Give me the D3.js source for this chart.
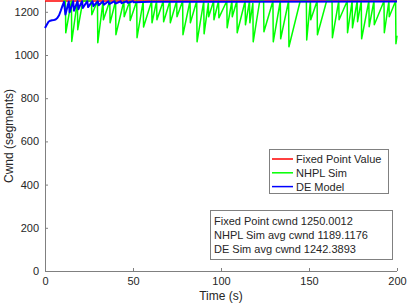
<!DOCTYPE html>
<html><head><meta charset="utf-8">
<script src="https://cdn.jsdelivr.net/npm/d3@7"></script>
<style>body{margin:0;background:#fff;} svg{display:block;} text{font-family:"Liberation Sans",Arial,sans-serif;fill:#262626;}</style>
</head><body><svg id="c" width="407" height="308"></svg>
<script>
const xTicks = [0, 50, 100, 150, 200];
const yTicks = [0, 200, 400, 600, 800, 1000, 1200];
const fixedPointTime = [0, 200];
const fixedPointCwnd = [1250.0012, 1250.0012];
const nhplTime = [10.5,11.6,11.8,15.0,15.2,18.4,18.6,21.5,26.4,26.6,29.8,30.0,33.0,33.2,36.8,37.0,40.1,40.3,44.8,45.0,48.2,48.4,52.1,52.3,55.8,56.0,60.6,60.8,63.4,63.6,67.2,67.4,71.0,71.2,74.8,75.0,78.2,78.4,82.4,82.6,86.2,86.4,90.2,90.4,92.8,93.0,95.8,96.0,98.6,98.8,103.3,103.5,106.2,106.4,109.0,109.2,113.7,113.9,116.2,116.4,118.1,118.3,122,124.2,124.4,129.5,129.7,133.7,133.9,138.4,138.6,145,148.5,148.7,150.8,151.0,154.6,154.8,160,163.1,163.3,166.9,167.1,171.7,171.9,174.5,174.7,177.4,177.6,179.7,179.9,184.0,184.2,186.9,187.1,192.6,192.8,195.4,195.6,199.2,199.4,200];
const nhplCwnd = [1250,1250,1103,1250,1063,1250,1117,1250,1250,1186,1250,1057,1250,1163,1250,1149,1250,1094,1250,1177,1250,1160,1250,1080,1250,1130,1250,1149,1250,1163,1250,1154,1250,1149,1250,1177,1250,1094,1250,1149,1250,1061,1250,1098,1240,1177,1250,1163,1250,1172,1250,1126,1250,1177,1250,1103,1250,1140,1250,1149,1240,1061,1250,1250,1108,1250,1061,1250,1075,1250,1038,1250,1250,1070,1250,1163,1250,1094,1250,1250,1080,1250,1163,1250,1103,1250,1126,1250,1154,1250,1075,1250,1131,1250,1140,1250,1103,1250,1177,1250,1052,1089];
const deTime = [0,1,2,3,4,5,6,7,8,9,10,10.8,11.6,13.5,14.0,16.0,16.5,18.5,19.0,21.0,21.5,24.0,24.5,27.0,27.5,30.0,30.5,33.0,33.5,36.0,36.5,39.5,40.0,43.0,43.5,46.5,47.0,50.0,50.5,60,100,200];
const deCwnd = [1125,1140,1154,1159,1161,1162,1164,1171,1184,1206,1230,1246,1188,1248,1198,1249,1205,1249,1212,1249,1218,1249,1222,1249,1226,1249,1230,1249,1233,1249,1236,1249,1238,1249,1240,1249,1242,1249,1244,1246,1247,1248];
const legendLabels = ["Fixed Point Value", "NHPL Sim", "DE Model"];
const legendColors = ["#ff0000", "#00ff00", "#0000ff"];
const infoLines = ["Fixed Point cwnd 1250.0012", "NHPL Sim avg cwnd 1189.1176", "DE Sim avg cwnd 1242.3893"];

const svg = d3.select("#c");
const L = 45, R = 397, T = 1, B = 271;
const x = d3.scaleLinear().domain([0, 200]).range([L, R]);
const y = d3.scaleLinear().domain([0, 1250]).range([B, T]);

// axes
const xa = svg.append("g").attr("transform", `translate(0,${B})`)
  .call(d3.axisBottom(x).tickValues(xTicks).tickFormat(d3.format("d")).tickSizeInner(-3).tickSizeOuter(0).tickPadding(6));
const ya = svg.append("g").attr("transform", `translate(${L},0)`)
  .call(d3.axisLeft(y).tickValues(yTicks).tickFormat(d3.format("d")).tickSizeInner(-3).tickSizeOuter(0).tickPadding(6));
[xa, ya].forEach(a => {
  a.select(".domain").attr("stroke", "#808080");
  a.selectAll(".tick line").attr("stroke", "#808080");
  a.selectAll(".tick text").attr("font-size", 11).attr("fill", "#262626").attr("font-family", "Liberation Sans, Arial, sans-serif");
});
xa.select(".domain").attr("d", `M${L},0.5H${R}`);
ya.select(".domain").attr("d", `M0.5,${B}V${T}`);

svg.append("text").attr("x", (L + R) / 2).attr("y", 300).attr("text-anchor", "middle").attr("font-size", 12).text("Time (s)");
svg.append("text").attr("transform", `translate(13,${(T + B) / 2}) rotate(-90)`).attr("text-anchor", "middle").attr("font-size", 12).text("Cwnd (segments)");

const line = d3.line().x(d => x(d[0])).y(d => y(d[1]));
const series = [
  [fixedPointTime, fixedPointCwnd, legendColors[0], 1.5],
  [nhplTime, nhplCwnd, legendColors[1], 1.5],
  [deTime, deCwnd, legendColors[2], 2]
];
series.forEach(([ts, vs, c, w]) => {
  svg.append("path").datum(ts.map((t, i) => [t, vs[i]]))
    .attr("d", line).attr("fill", "none").attr("stroke", c).attr("stroke-width", w).attr("stroke-linejoin", "round");
});

// legend
const lg = svg.append("g");
lg.append("rect").attr("x", 269.5).attr("y", 149.5).attr("width", 119).attr("height", 44).attr("fill", "#fff").attr("stroke", "#808080").attr("stroke-width", 1);
legendLabels.forEach((lab, i) => {
  const yy = 159 + i * 13.8;
  lg.append("line").attr("x1", 272).attr("x2", 293).attr("y1", yy).attr("y2", yy).attr("stroke", legendColors[i]).attr("stroke-width", 1.5);
  lg.append("text").attr("x", 296).attr("y", yy + 4).attr("font-size", 11).text(lab);
});

// info box
const ib = svg.append("g");
ib.append("rect").attr("x", 210.5).attr("y", 210.5).attr("width", 182).attr("height", 49).attr("fill", "#fff").attr("stroke", "#808080").attr("stroke-width", 1);
infoLines.forEach((s, i) => {
  ib.append("text").attr("x", 214).attr("y", 224.5 + i * 14).attr("font-size", 11).text(s);
});
</script></body></html>
